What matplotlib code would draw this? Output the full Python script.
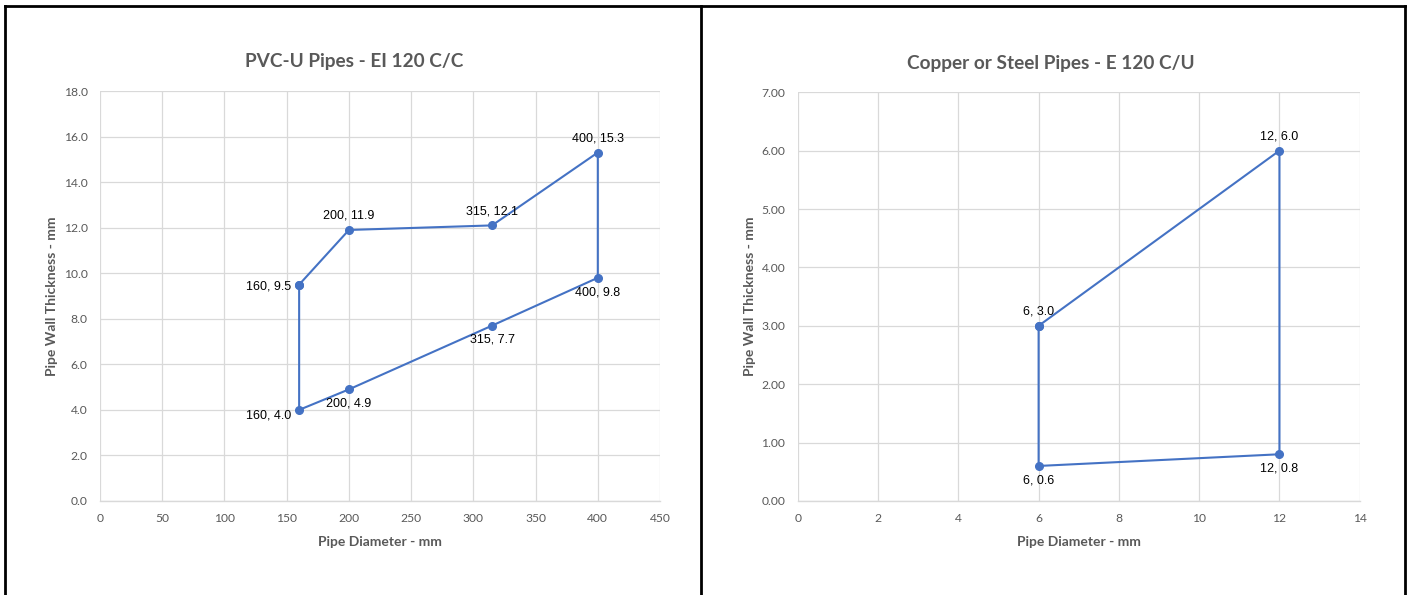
import matplotlib.pyplot as plt
from matplotlib.lines import Line2D

# PVC-U pipes (closed outline)
pvc_d = [160, 200, 315, 400, 400, 315, 200, 160, 160]
pvc_t = [9.5, 11.9, 12.1, 15.3, 9.8, 7.7, 4.9, 4.0, 9.5]
pvc_pos = ['left', 'above', 'above', 'above', 'below', 'below', 'below', 'left']

# Copper / steel pipes (closed outline)
cu_d = [6, 12, 12, 6, 6]
cu_t = [3.0, 6.0, 0.8, 0.6, 3.0]
cu_pos = ['above', 'above', 'below', 'below']

blue = '#4472C4'
grey = '#595959'
grid = '#D9D9D9'
head_font = 'Lato'
lab_font = 'Liberation Sans'

fig = plt.figure(figsize=(14.07, 5.95), dpi=100)
fig.patch.set_facecolor('white')


def draw(ax, xs, ys, pos, title, title_x, xlim, xstep, ylim, ystep, yfmt):
    ax.plot(xs, ys, color=blue, lw=1.5, marker='o', ms=5.5, zorder=3)
    for i, (x, y, p) in enumerate(zip(xs[:-1], ys[:-1], pos)):
        txt = f'{x:g}, {y:.1f}'
        if p == 'above':
            off, ha, va = (0, 6), 'center', 'bottom'
        elif p == 'below':
            off, ha, va = (0, -6), 'center', 'top'
        else:
            # lower-left label sits a little under its point
            off, ha, va = (-6, -4 if y < 5 else -1), 'right', 'center'
        ax.annotate(txt, (x, y), xytext=off, textcoords='offset points',
                    ha=ha, va=va, fontsize=9, family=lab_font, color='black')
    ax.set_xlim(*xlim)
    ax.set_ylim(*ylim)
    ax.set_xticks([xlim[0] + i * xstep for i in range(int(round((xlim[1] - xlim[0]) / xstep)) + 1)])
    ax.set_yticks([ylim[0] + i * ystep for i in range(int(round((ylim[1] - ylim[0]) / ystep)) + 1)])
    ax.yaxis.set_major_formatter(plt.FormatStrFormatter(yfmt))
    ax.grid(True, color=grid, lw=0.9)
    ax.set_axisbelow(True)
    for s in ['top', 'right', 'left']:
        ax.spines[s].set_visible(False)
    ax.spines['bottom'].set_color(grid)
    ax.spines['bottom'].set_linewidth(1.0)
    ax.tick_params(length=0, labelsize=8.7, labelcolor=grey, pad=9)
    for t in ax.get_xticklabels() + ax.get_yticklabels():
        t.set_family(head_font)
    ax.set_title(title, x=title_x, fontsize=13.7, color=grey, family=head_font,
                 pad=17, fontweight='bold')
    ax.set_xlabel('Pipe Diameter - mm', fontsize=10, color=grey, family=head_font,
                  fontweight='bold', labelpad=8)
    ax.set_ylabel('Pipe Wall Thickness - mm', fontsize=10, color=grey, family=head_font,
                  fontweight='bold', labelpad=4)


ax1 = fig.add_axes([0.0711, 0.158, 0.398, 0.689])
draw(ax1, pvc_d, pvc_t, pvc_pos, 'PVC-U Pipes - EI 120 C/C', 0.454,
     (0, 450), 50, (0, 18), 2, '%.1f')

ax2 = fig.add_axes([0.567, 0.158, 0.3994, 0.687])
draw(ax2, cu_d, cu_t, cu_pos, 'Copper or Steel Pipes - E 120 C/U', 0.45,
     (0, 14), 2, (0, 7), 1, '%.2f')

# black frame around the two panels
W, H = 1407, 595
for x0, y0, x1, y1 in [(5, 6, 1405, 6), (5, 6, 5, 595), (701, 6, 701, 595), (1405, 6, 1405, 595)]:
    fig.add_artist(Line2D([x0 / W, x1 / W], [1 - y0 / H, 1 - y1 / H], color='black', lw=2))

fig.savefig('out.png', dpi=100)
